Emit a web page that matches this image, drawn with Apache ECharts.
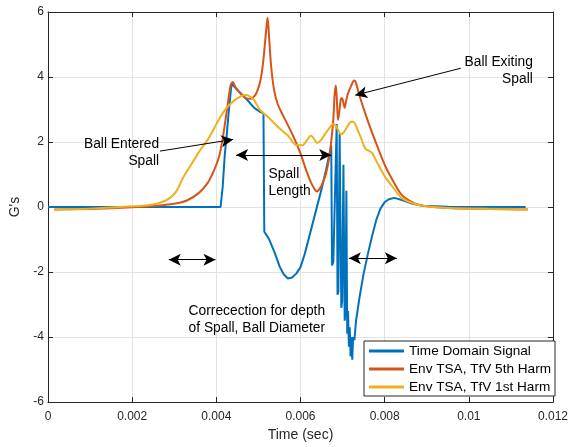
<!DOCTYPE html>
<html>
<head>
<meta charset="utf-8">
<script src="https://cdn.jsdelivr.net/npm/echarts@6/dist/echarts.min.js"></script>
<style>
  html, body { margin: 0; padding: 0; background: #ffffff; }
  #chart { width: 574px; height: 447px; }
</style>
</head>
<body>
<div id="chart"></div>
<script>
// ---------- data ----------
const seriesNames = ['Time Domain Signal', 'Env TSA, TfV 5th Harm', 'Env TSA, TfV 1st Harm'];

const xTicks = [0, 0.002, 0.004, 0.006, 0.008, 0.01, 0.012];
const yTicks = [-6, -4, -2, 0, 2, 4, 6];

const blueX = [0, 0.0041, 0.00415, 0.0042, 0.00424, 0.0043, 0.00435, 0.00437, 0.0045, 0.00471, 0.0049, 0.00505, 0.00512,
  0.00514, 0.0052, 0.00526, 0.0054, 0.0055, 0.0056, 0.0057, 0.0058, 0.0059, 0.006, 0.0061, 0.0062, 0.0063, 0.0064,
  0.0065, 0.0066, 0.0067, 0.00673,
  0.00675, 0.00678, 0.00686, 0.00688, 0.0069, 0.00693, 0.00697, 0.00699, 0.00702, 0.00705, 0.00707, 0.00709, 0.00711, 0.00713,
  0.00715, 0.00717, 0.00719, 0.00721, 0.00723, 0.00725, 0.00728, 0.00732, 0.0074, 0.0075, 0.0076, 0.0077, 0.0078, 0.0079,
  0.008, 0.0081, 0.00823, 0.00845, 0.00866, 0.0089, 0.0095, 0.01135];
const blueY = [0, 0, 0.6, 1.6, 2.12, 3.0, 3.65, 3.79, 3.6, 3.33, 3.05, 2.92, 2.88,
  -0.76, -0.88, -1.01, -1.45, -1.82, -2.07, -2.2, -2.17, -2.05, -1.85, -1.45, -0.95, -0.45, 0.05,
  0.55, 1.1, 1.7, 1.9,
  -1.8, -1.7, 2.55, -2.7, -2.6, 2.25, -3.1, -2.9, 1.3, -3.5, -3.2, 0.5, -3.9, -3.2,
  -4.3, -3.7, -4.6, -4.0, -4.7, -4.0, -4.1, -3.5, -2.8, -2.05, -1.45, -0.9, -0.4, -0.05,
  0.15, 0.24, 0.28, 0.2, 0.1, 0.04, 0.01, 0.0];

const orangeX = [0.00015, 0.001, 0.002, 0.0025, 0.003, 0.0033, 0.0036, 0.0038, 0.0039, 0.004, 0.00408, 0.00415, 0.0042,
  0.00428, 0.00434, 0.00439, 0.00445, 0.0046, 0.0047, 0.00479, 0.00488, 0.00495, 0.00502, 0.00507, 0.00512, 0.00516, 0.0052,
  0.00522, 0.00525, 0.00528, 0.00532, 0.00538, 0.00545, 0.00554, 0.00565, 0.00582, 0.006, 0.00613, 0.00625, 0.00635, 0.00639,
  0.00645, 0.00653, 0.00661, 0.00668, 0.00673, 0.00678, 0.00681, 0.00684, 0.00686, 0.00689, 0.00692, 0.00696, 0.00699, 0.00702,
  0.00705, 0.00709, 0.00713, 0.0072, 0.00727, 0.00731, 0.0074, 0.0076, 0.0078, 0.008, 0.0082, 0.0084, 0.0087, 0.009, 0.0095,
  0.0105, 0.0114];
const orangeY = [-0.08, -0.06, -0.01, 0.03, 0.1, 0.2, 0.45, 0.75, 1.0, 1.3, 1.62, 2.1, 2.52,
  3.25, 3.75, 3.85, 3.7, 3.45, 3.35, 3.33, 3.38, 3.5, 3.75, 4.04, 4.55, 5.1, 5.65,
  5.82, 5.3, 4.7, 4.1, 3.55, 3.2, 2.93, 2.65, 2.2, 1.65, 1.15, 0.75, 0.52, 0.48,
  0.55, 0.75, 1.05, 1.5, 2.02, 2.7, 3.45, 3.74, 3.4, 2.68, 2.9, 3.33, 3.35, 3.2,
  3.05, 3.3, 3.5, 3.72, 3.89, 3.85, 3.43, 2.65, 1.95, 1.3, 0.8, 0.38, 0.12, 0.02, -0.03,
  -0.06, -0.08];

const yellowX = [0.00015, 0.001, 0.002, 0.0025, 0.0028, 0.003, 0.0031, 0.0032, 0.0034, 0.0036, 0.0038, 0.004, 0.0042,
  0.0044, 0.0046, 0.00471, 0.0048, 0.0049, 0.00503, 0.0052, 0.0054, 0.0055, 0.0057, 0.0059, 0.00605, 0.00615, 0.00625,
  0.00632, 0.00639, 0.00648, 0.00657, 0.00668, 0.00677, 0.00683, 0.0069, 0.00696, 0.00703, 0.0071, 0.00718, 0.00724,
  0.0073, 0.00738, 0.00744, 0.0075, 0.00756, 0.00764, 0.00771, 0.0078, 0.008, 0.0082, 0.0084, 0.0087, 0.009, 0.0095,
  0.0105, 0.0114];
const yellowY = [-0.08, -0.05, 0.02, 0.08, 0.2, 0.4, 0.6, 0.88, 1.3, 1.72, 2.08, 2.55, 2.98,
  3.25, 3.42, 3.45, 3.4, 3.28, 3.0, 2.8, 2.55, 2.42, 2.2, 1.9, 1.9, 2.05, 2.2,
  2.1, 1.97, 2.05, 2.22, 2.42, 2.55, 2.52, 2.35, 2.24, 2.3, 2.45, 2.6, 2.63,
  2.55, 2.3, 2.12, 1.9, 1.77, 1.72, 1.65, 1.42, 0.95, 0.6, 0.28, 0.1, 0.02, -0.03,
  -0.06, -0.08];

// annotation texts: [text, x, y, align]
const noteTexts = [
  ['Ball Exiting', 0.01152, 4.45, 'right'],
  ['Spall', 0.01152, 3.92, 'right'],
  ['Ball Entered', 0.00264, 1.92, 'right'],
  ['Spall', 0.00264, 1.4, 'right'],
  ['Spall', 0.00524, 1.0, 'left'],
  ['Length', 0.00524, 0.5, 'left'],
  ['Correcection for depth', 0.00334, -3.2, 'left'],
  ['of Spall, Ball Diameter', 0.00334, -3.72, 'left']
];
// arrows: [x1, y1, x2, y2, double-headed]
const arrows = [
  [0.00981, 4.27, 0.0073, 3.44, false],
  [0.00266, 1.72, 0.0044, 2.08, false],
  [0.00447, 1.6, 0.00673, 1.6, true],
  [0.00287, -1.62, 0.00398, -1.62, true],
  [0.00715, -1.58, 0.00829, -1.58, true]
];

// ---------- build ----------
const zip = (xs, ys) => xs.map((x, i) => [x, ys[i]]);
const colors = ['#0072BD', '#D95319', '#EDB120'];
const axisCol = '#262626';
const font = 'Liberation Sans, Arial, Helvetica, sans-serif';

const markLineData = arrows.map(a => [
  { coord: [a[0], a[1]], symbol: a[4] ? 'arrow' : 'none' },
  { coord: [a[2], a[3]], symbol: 'arrow' }
]);

const chart = echarts.init(document.getElementById('chart'), null, { renderer: 'canvas' });

const baseX = {
  type: 'value', min: 0, max: 0.012, interval: 0.002,
  axisLine: { show: true, onZero: false, lineStyle: { color: axisCol, width: 1 } },
  axisTick: { show: true, inside: true, length: 5, lineStyle: { color: axisCol } },
  splitLine: { show: false }
};
const baseY = {
  type: 'value', min: -6, max: 6, interval: 2,
  axisLine: { show: true, onZero: false, lineStyle: { color: axisCol, width: 1 } },
  axisTick: { show: true, inside: true, length: 5, lineStyle: { color: axisCol } },
  splitLine: { show: false }
};

chart.setOption({
  animation: false,
  backgroundColor: '#ffffff',
  textStyle: { fontFamily: font },
  grid: { left: 48, right: 21, top: 12, bottom: 39 },
  xAxis: [
    Object.assign({}, baseX, {
      position: 'bottom',
      name: 'Time (sec)', nameLocation: 'middle', nameGap: 26,
      nameTextStyle: { color: axisCol, fontSize: 14, fontFamily: font },
      axisLabel: { color: axisCol, fontSize: 12, margin: 9, fontFamily: font,
        formatter: v => String(+v.toFixed(3)) },
      splitLine: { show: true, lineStyle: { color: '#e3e3e3', width: 1 } }
    }),
    Object.assign({}, baseX, { position: 'top', axisLabel: { show: false } })
  ],
  yAxis: [
    Object.assign({}, baseY, {
      position: 'left',
      name: "G's", nameLocation: 'middle', nameGap: 14, nameRotate: 90,
      nameTextStyle: { color: axisCol, fontSize: 14, fontFamily: font },
      axisLabel: { color: axisCol, fontSize: 12, margin: 4, fontFamily: font },
      splitLine: { show: true, lineStyle: { color: '#e3e3e3', width: 1 } }
    }),
    Object.assign({}, baseY, { position: 'right', axisLabel: { show: false } })
  ],
  legend: {
    data: seriesNames,
    orient: 'vertical',
    left: 364, top: 341,
    padding: [3, 4, 2, 5],
    itemGap: 4,
    itemWidth: 35, itemHeight: 3,
    icon: 'rect',
    backgroundColor: '#ffffff',
    borderColor: axisCol, borderWidth: 1, borderRadius: 0,
    textStyle: { color: '#000000', fontSize: 13.6, fontFamily: font, padding: [0, 0, 0, 0] },
    selectedMode: false
  },
  series: [
    {
      name: seriesNames[0], type: 'line', data: zip(blueX, blueY),
      showSymbol: false, smooth: false,
      lineStyle: { color: colors[0], width: 2 }, itemStyle: { color: colors[0] },
      z: 2
    },
    {
      name: seriesNames[1], type: 'line', data: zip(orangeX, orangeY),
      showSymbol: false, smooth: 0.25,
      lineStyle: { color: colors[1], width: 2 }, itemStyle: { color: colors[1] },
      z: 3
    },
    {
      name: seriesNames[2], type: 'line', data: zip(yellowX, yellowY),
      showSymbol: false, smooth: 0.25,
      lineStyle: { color: colors[2], width: 2 }, itemStyle: { color: colors[2] },
      z: 4
    },
    {
      name: 'annotations', type: 'line', data: [], z: 5,
      markLine: {
        silent: true, animation: false,
        symbolSize: [9, 12],
        label: { show: false },
        lineStyle: { color: '#000000', width: 1, type: 'solid' },
        emphasis: { disabled: true },
        data: markLineData
      }
    }
  ]
});

const graphics = noteTexts.map(t => {
  const p = chart.convertToPixel({ gridIndex: 0 }, [t[1], t[2]]);
  return {
    type: 'text', x: p[0], y: p[1], z: 10,
    style: { text: t[0], fill: '#000000', font: '13.8px ' + font, align: t[3], verticalAlign: 'middle' }
  };
});
chart.setOption({ graphic: graphics });
</script>
</body>
</html>
